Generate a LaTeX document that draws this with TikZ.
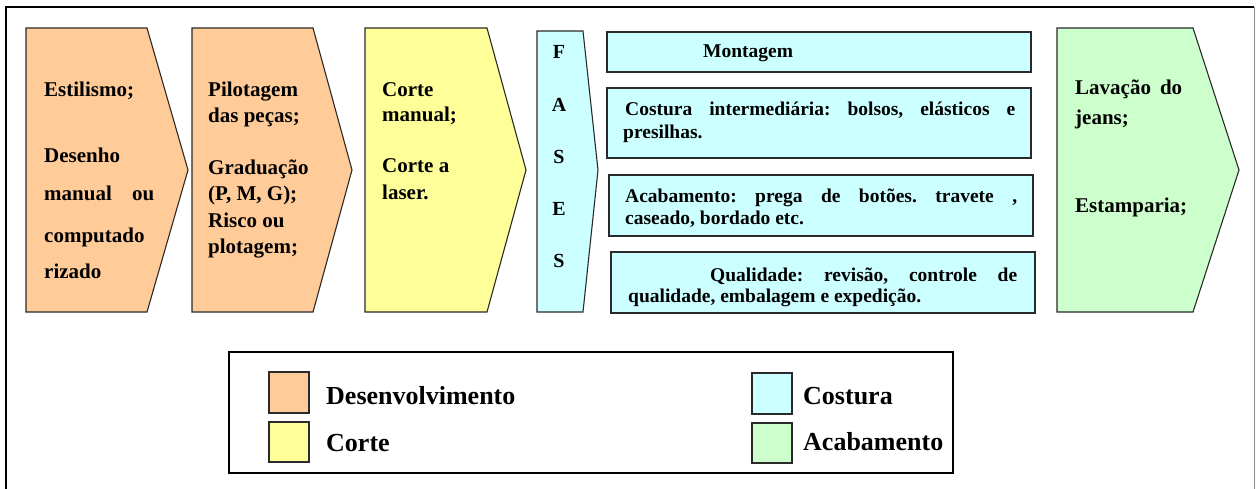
\documentclass[tikz,border=0pt]{standalone}
\usepackage{fontspec}
\setmainfont{Liberation Serif}
\frenchspacing
\definecolor{corange}{HTML}{FFCC99}
\definecolor{cyellow}{HTML}{FFFF99}
\definecolor{ccyan}{HTML}{CCFFFF}
\definecolor{cgreen}{HTML}{CCFFCC}
\definecolor{edge}{HTML}{2A2A2A}
\tikzset{
  chev/.style={draw=edge, line width=1.1pt, line join=miter},
  swatch/.style={draw=edge, line width=1.1pt},
  lab/.style={anchor=base west, inner sep=0pt, font=\bfseries\fontsize{21}{25}\selectfont},
  blab/.style={anchor=base west, inner sep=0pt, font=\bfseries\fontsize{19.5}{23}\selectfont},
  leg/.style={anchor=base west, inner sep=0pt, font=\bfseries\fontsize{26}{30}\selectfont},
  fases/.style={anchor=base, inner sep=0pt, font=\bfseries\fontsize{20}{24}\selectfont},
}
\begin{document}
\frenchspacing
\begin{tikzpicture}[x=1pt,y=-1pt]
\useasboundingbox (0,0) rectangle (1258,489);
\fill[white] (0,0) rectangle (1258,489);
% outer frame
\draw[black, line width=1.3pt] (6,495) -- (6,7) -- (1254,7);
\draw[black!45, line width=1pt] (1254,7) -- (1254,495);

% chevrons
\draw[chev, fill=corange] (26,28) -- (147,28) -- (188,170) -- (147,312) -- (26,312) -- cycle;
\draw[chev, fill=corange] (192,28) -- (313,28) -- (352,170) -- (313,312) -- (192,312) -- cycle;
\draw[chev, fill=cyellow] (365,28) -- (487,28) -- (526,170) -- (487,312) -- (365,312) -- cycle;
\draw[chev, fill=ccyan] (537,31) -- (583,31) -- (598,170) -- (583,312) -- (537,312) -- cycle;
\draw[chev, fill=cgreen] (1057,28) -- (1193,28) -- (1239,170) -- (1193,312) -- (1057,312) -- cycle;

% cyan rectangles
\draw[chev, fill=ccyan] (607,32) rectangle (1031,72);
\draw[chev, fill=ccyan] (607,88) rectangle (1031,158);
\draw[chev, fill=ccyan] (609,175) rectangle (1033,236);
\draw[chev, fill=ccyan] (611,252) rectangle (1035,313);

% chevron 1 text
\node[lab] (t1a) at (44,97) {Estilismo;};
\node[lab] (t1b) at (44,163) {Desenho};
\node[lab] (t1c) at (44,201) {\makebox[110pt][s]{manual ou}};
\node[lab] (t1d) at (44,242) {computado};
\node[lab] (t1e) at (44,278) {rizado};

% chevron 2 text
\node[lab] (t2a) at (208,97) {Pilotagem};
\node[lab] (t2b) at (208,123) {das peças;};
\node[lab] (t2c) at (208,175) {Graduação};
\node[lab] (t2d) at (208,201) {(P, M, G);};
\node[lab] (t2e) at (208,227) {Risco ou};
\node[lab] (t2f) at (208,253) {plotagem;};

% chevron 3 text
\node[lab] (t3a) at (382,97) {Corte};
\node[lab] (t3b) at (382,122) {manual;};
\node[lab] (t3c) at (382,173) {Corte a};
\node[lab] (t3d) at (382,200) {laser.};

% FASES
\node[fases] (f1) at (559,59) {F};
\node[fases] (f2) at (559,112) {A};
\node[fases] (f3) at (559,164) {S};
\node[fases] (f4) at (559,215) {E};
\node[fases] (f5) at (559,267) {S};

% cyan box texts
\node[blab] (r1) at (703,58) {Montagem};
\node[blab] (r2a) at (625,116) {\makebox[390pt][s]{Costura intermediária: bolsos, elásticos e}};
\node[blab] (r2b) at (623,139) {presilhas.};
\node[blab] (r3a) at (625,203) {\makebox[392pt][s]{Acabamento: prega de botões. travete ,}};
\node[blab] (r3b) at (625,225) {caseado, bordado etc.};
\node[blab] (r4a) at (710,281) {\makebox[307pt][s]{Qualidade: revisão, controle de}};
\node[blab] (r4b) at (628,302) {qualidade, embalagem e expedição.};

% green text
\node[lab] (t5a) at (1075,95) {\makebox[107pt][s]{Lavação do}};
\node[lab] (t5b) at (1075,125) {jeans;};
\node[lab] (t5c) at (1075,213) {Estamparia;};

% legend
\draw[black, line width=1.2pt] (229,352) rectangle (953,473);
\draw[swatch, fill=corange] (269,372) rectangle (309,413);
\draw[swatch, fill=cyellow] (269,422) rectangle (309,462);
\draw[swatch, fill=ccyan] (752,373) rectangle (792,414);
\draw[swatch, fill=cgreen] (752,423) rectangle (792,463);
\node[leg] (l1) at (326,404) {Desenvolvimento};
\node[leg] (l2) at (326,451) {Corte};
\node[leg] (l3) at (803,404) {Costura};
\node[leg] (l4) at (803,450) {Acabamento};
\end{tikzpicture}
\end{document}
